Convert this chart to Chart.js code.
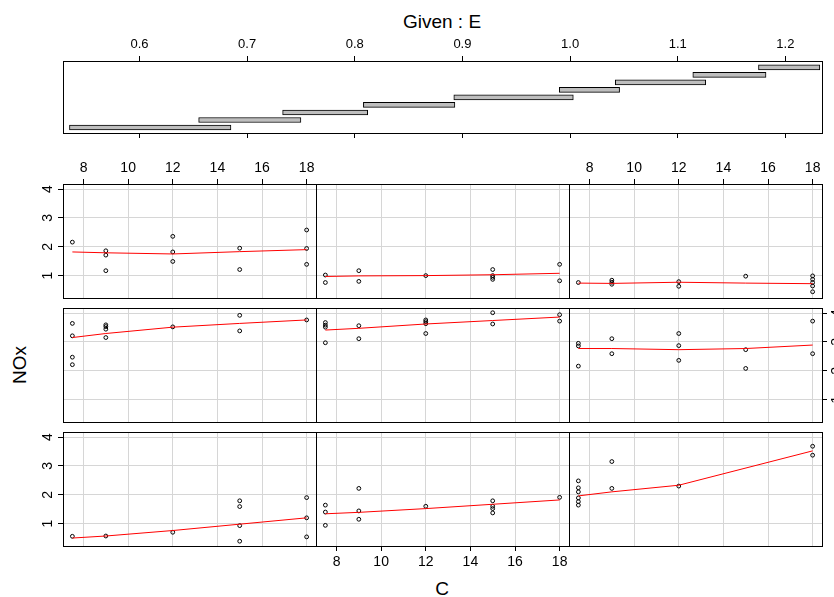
<!DOCTYPE html>
<html>
<head>
<meta charset="utf-8">
<script src="https://cdn.jsdelivr.net/npm/chart.js@4.4.1/dist/chart.umd.min.js"></script>
<style>
  html, body { margin: 0; padding: 0; background: #fff; }
  #wrap { position: relative; width: 834px; height: 597px; overflow: hidden; font-family: 'Liberation Sans', Arial, sans-serif; }
  #wrap canvas { position: absolute; left: 0; top: 0; }
  .lbl { position: absolute; color: #000; font-size: 18px; line-height: 1; white-space: nowrap; }
</style>
</head>
<body>
<div id="wrap">
  <div class="lbl" style="left:442px;top:21px;font-size:19px;transform:translate(-50%,-50%)">Given : E</div>
  <div class="lbl" style="left:442px;top:588px;font-size:19px;transform:translate(-50%,-50%)">C</div>
  <div class="lbl" style="left:19px;top:365px;font-size:19px;transform:translate(-50%,-50%) rotate(-90deg)">NOx</div>
</div>
<script>
const W = 834, H = 597;
const FONT = "'Liberation Sans', Arial, sans-serif";

// conditioning intervals of E
const givenLo = [0.535, 0.655, 0.733, 0.808, 0.892, 0.990, 1.042, 1.114, 1.175];
const givenHi = [0.685, 0.750, 0.812, 0.893, 1.003, 1.046, 1.126, 1.182, 1.232];

// tick labels
const eTicks = [0.6, 0.7, 0.8, 0.9, 1.0, 1.1, 1.2];
const cTicks = [8, 10, 12, 14, 16, 18];
const noxTicks = [1, 2, 3, 4];

// panels, bottom-left first (R coplot order)
const p1C = [7.5, 9, 12, 15, 15, 15, 15, 18, 18, 18];
const p1NOx = [0.56, 0.57, 0.70, 1.79, 1.59, 0.93, 0.39, 1.90, 1.20, 0.54];
const p1Fit = [0.50, 0.57, 0.76, 0.98, 1.20];

const p2C = [7.5, 7.5, 7.5, 9, 9, 9, 12, 15, 15, 15, 15, 18];
const p2NOx = [1.64, 1.40, 0.94, 2.22, 1.44, 1.15, 1.60, 1.79, 1.60, 1.52, 1.37, 1.91];
const p2Fit = [1.34, 1.39, 1.52, 1.67, 1.82];

const p3C = [7.5, 7.5, 7.5, 7.5, 7.5, 7.5, 9, 9, 12, 18, 18];
const p3NOx = [2.48, 2.24, 2.10, 1.89, 1.76, 1.64, 3.15, 2.22, 2.30, 3.68, 3.37];
const p3Fit = [1.96, 2.10, 2.33, 3.52];

const p4C = [7.5, 7.5, 7.5, 7.5, 9, 9, 9, 9, 12, 15, 15, 18];
const p4NOx = [3.64, 3.21, 2.47, 2.21, 3.59, 3.53, 3.44, 3.15, 3.52, 3.92, 3.38, 3.76];
const p4Fit = [3.15, 3.29, 3.51, 3.64, 3.76];

const p5C = [7.5, 7.5, 7.5, 7.5, 9, 9, 12, 12, 12, 12, 15, 15, 18, 18];
const p5NOx = [3.67, 3.58, 3.51, 2.97, 3.56, 3.11, 3.76, 3.70, 3.63, 3.29, 4.01, 3.62, 3.94, 3.72];
const p5Fit = [3.41, 3.47, 3.62, 3.74, 3.86];

const p6C = [7.5, 7.5, 7.5, 9, 9, 12, 12, 12, 15, 15, 18, 18];
const p6NOx = [2.95, 2.86, 2.16, 3.11, 2.59, 3.29, 2.87, 2.36, 2.73, 2.08, 3.72, 2.59];
const p6Fit = [2.77, 2.77, 2.73, 2.77, 2.89];

const p7C = [7.5, 9, 9, 9, 12, 12, 12, 15, 15, 18, 18, 18];
const p7NOx = [2.16, 1.86, 1.71, 1.17, 2.36, 1.82, 1.49, 1.95, 1.21, 2.58, 1.94, 1.39];
const p7Fit = [1.82, 1.79, 1.75, 1.83, 1.90];

const p8C = [7.5, 7.5, 9, 9, 12, 15, 15, 15, 15, 18, 18];
const p8NOx = [1.02, 0.76, 1.17, 0.80, 1.00, 1.21, 1.00, 0.94, 0.87, 1.39, 0.82];
const p8Fit = [0.97, 0.99, 1.00, 1.03, 1.08];

const p9C = [7.5, 9, 9, 9, 12, 12, 15, 18, 18, 18, 18, 18];
const p9NOx = [0.76, 0.84, 0.77, 0.70, 0.79, 0.63, 0.98, 0.99, 0.87, 0.76, 0.64, 0.44];
const p9Fit = [0.74, 0.73, 0.77, 0.74, 0.72];

const panels = [
  [p1C, p1NOx, p1Fit], [p2C, p2NOx, p2Fit], [p3C, p3NOx, p3Fit],
  [p4C, p4NOx, p4Fit], [p5C, p5NOx, p5Fit], [p6C, p6NOx, p6Fit],
  [p7C, p7NOx, p7Fit], [p8C, p8NOx, p8Fit], [p9C, p9NOx, p9Fit]
];

// panel grid geometry
const colX = [63, 316, 569, 822];
const rowTop = [432, 308, 184];
const panelH = 114;
const AX = 30;      // fixed axis box size
const AX_R = 12;    // right axis box (reaches the page edge)

const frame = {
  id: 'frame',
  afterDraw(chart) {
    const { ctx, chartArea: a } = chart;
    ctx.save();
    ctx.strokeStyle = '#000';
    ctx.lineWidth = 1;
    ctx.strokeRect(a.left + 0.5, a.top + 0.5, a.right - a.left, a.bottom - a.top);
    ctx.restore();
  }
};

function addCanvas() {
  const cv = document.createElement('canvas');
  cv.width = W; cv.height = H;
  cv.style.width = W + 'px'; cv.style.height = H + 'px';
  document.getElementById('wrap').appendChild(cv);
  return cv;
}

const fixW = n => s => { s.width = n; };
const fixH = n => s => { s.height = n; };
const setTicks = list => s => { s.ticks = list.map(v => ({ value: v })); };

// Given : E panel
new Chart(addCanvas(), {
  type: 'bar',
  data: {
    datasets: [{
      data: givenLo.map((lo, i) => ({ y: i + 1, x: [lo, givenHi[i]] })),
      backgroundColor: '#bebebe',
      borderColor: '#000',
      borderWidth: 1,
      borderSkipped: false,
      barThickness: 5
    }]
  },
  options: {
    indexAxis: 'y',
    responsive: false,
    animation: false,
    devicePixelRatio: 1,
    events: [],
    layout: { padding: { left: 63, right: W - 822, top: 61 - AX, bottom: H - 133 - AX } },
    plugins: { legend: { display: false }, tooltip: { enabled: false } },
    scales: {
      x: {
        type: 'linear', position: 'top', min: 0.529, max: 1.234,
        afterBuildTicks: setTicks(eTicks), afterFit: fixH(AX),
        grid: { drawOnChartArea: false, tickLength: 5, tickColor: '#000' },
        border: { display: false },
        ticks: { color: '#000', font: { family: FONT, size: 13 }, padding: 4, maxRotation: 0, autoSkip: false,
                 callback: v => v.toFixed(1) }
      },
      x2: {
        type: 'linear', axis: 'x', position: 'bottom', min: 0.529, max: 1.234,
        afterBuildTicks: setTicks(eTicks), afterFit: fixH(AX),
        grid: { drawOnChartArea: false, tickLength: 5, tickColor: '#000' },
        border: { display: false },
        ticks: { display: false }
      },
      y: { type: 'linear', min: 0.27, max: 9.84, offset: false, display: false }
    }
  },
  plugins: [frame]
});

// the nine conditioning panels
panels.forEach(([C, N, fit], k) => {
  const col = k % 3, row = Math.floor(k / 3);
  const left = colX[col], right = colX[col + 1];
  const top = rowTop[row], bottom = top + panelH;
  const fitC = [...new Set(C)].sort((a, b) => a - b);
  const xPos = (k === 6 || k === 8) ? 'top' : 'bottom';
  const xLab = k === 1 || k === 6 || k === 8;
  const yPos = k === 5 ? 'right' : 'left';
  const yLab = k === 0 || k === 5 || k === 6;
  const yW = yPos === 'right' ? AX_R : AX;

  const pad = {
    left: yPos === 'left' ? left - yW : left,
    right: yPos === 'right' ? W - right - yW : W - right,
    top: xPos === 'top' ? top - AX : top,
    bottom: xPos === 'bottom' ? H - bottom - AX : H - bottom
  };

  new Chart(addCanvas(), {
    type: 'scatter',
    data: {
      datasets: [
        {
          data: fitC.map((c, i) => ({ x: c, y: fit[i] })),
          showLine: true, borderColor: '#ff0000', borderWidth: 1,
          pointRadius: 0, tension: 0
        },
        {
          data: C.map((c, i) => ({ x: c, y: N[i] })),
          pointRadius: 1.9, borderColor: '#000', backgroundColor: 'rgba(0,0,0,0)', borderWidth: 1
        }
      ]
    },
    options: {
      responsive: false,
      animation: false,
      devicePixelRatio: 1,
      events: [],
      layout: { padding: pad },
      plugins: { legend: { display: false }, tooltip: { enabled: false } },
      scales: {
        x: {
          type: 'linear', position: xPos, min: 7.08, max: 18.42,
          afterBuildTicks: setTicks(cTicks), afterFit: fixH(AX),
          grid: { color: '#d6d6d6', drawTicks: xLab, tickLength: 5, tickColor: '#000' },
          border: { display: false },
          ticks: { display: xLab, color: '#000', font: { family: FONT, size: 14 },
                   padding: xPos === 'top' ? 2 : 3, maxRotation: 0, autoSkip: false }
        },
        y: {
          type: 'linear', position: yPos, min: 0.224, max: 4.174,
          afterBuildTicks: setTicks(noxTicks), afterFit: fixW(yW),
          grid: { color: '#d6d6d6', drawTicks: yLab, tickLength: 5, tickColor: '#000' },
          border: { display: false },
          ticks: { display: yLab, color: '#000', font: { family: FONT, size: 14 },
                   padding: yPos === 'right' ? 6 : 6, minRotation: 90, maxRotation: 90,
                   crossAlign: 'center', autoSkip: false }
        }
      }
    },
    plugins: [frame]
  });
});
</script>
</body>
</html>
